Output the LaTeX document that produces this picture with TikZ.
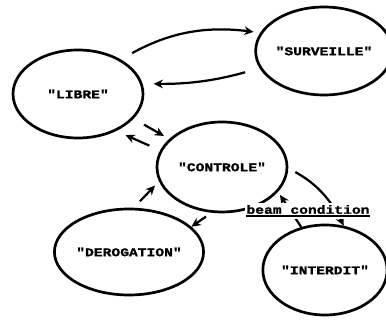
\documentclass[tikz,border=0pt]{standalone}
\usepackage{fontspec}
\newfontfamily\statefont[FakeStretch=1.25,FakeBold=1.5]{Liberation Mono}
\usetikzlibrary{arrows.meta,shapes.geometric}
\newcommand\condul[1]{\setbox0\hbox{#1}\rlap{\rule[-2.6pt]{\wd0}{1.2pt}}\box0}
\tikzset{
  >={Stealth[length=2.8mm,width=2.6mm]},
  state/.style={ellipse,draw,line width=2.3pt,inner sep=0pt,
    font=\statefont\bfseries\fontsize{10}{12}\selectfont},
  flow/.style={->,line width=1.9pt},
  cond/.style={fill=white,inner sep=1.5pt,
    font=\statefont\bfseries\fontsize{10}{12}\selectfont},
}
\begin{document}
\begin{tikzpicture}[x=0.3mm,y=0.3mm]
  \useasboundingbox (0,0) rectangle (386,321);
  % states
  \node[state,minimum width=39mm,minimum height=26.4mm] (libre) at (78,227) {"LIBRE"};
  \node[state,minimum width=36.6mm,minimum height=26.4mm] (surv) at (324,270) {"SURVEILLE"};
  \node[state,minimum width=39mm,minimum height=27mm] (ctrl) at (222,154) {"CONTROLE"};
  \node[state,minimum width=40.8mm,minimum height=25.8mm] (derog) at (129,69) {"DEROGATION"};
  \node[state,minimum width=36.3mm,minimum height=27mm] (inter) at (325,51) {"INTERDIT"};
  % transitions
  \draw[flow,shorten <=3.9mm,shorten >=2mm] (libre.39) to[bend left=18] (surv.164);
  \draw[flow,shorten <=4.5mm,shorten >=3.3mm] (surv.195) to[bend left=8] (libre.9);
  \draw[flow,shorten <=3.6mm,shorten >=1.8mm] (libre.-24) -- (ctrl.152);
  \draw[flow,shorten <=3.5mm,shorten >=3mm] (ctrl.165) -- (libre.-44);
  \draw[flow,shorten <=2.7mm,shorten >=1.7mm] (derog.84) -- (ctrl.193);
  \draw[flow,shorten <=2mm] (ctrl.257) -- (derog.22);
  \draw[flow,shorten >=1.1mm] (inter.119) -- (ctrl.-24);
  \draw[flow,shorten <=2.4mm] (ctrl.-1) to[bend left=17] (inter.67);
  \node[cond] (beam) at (308,110) {\condul{beam condition}};
\end{tikzpicture}
\end{document}
